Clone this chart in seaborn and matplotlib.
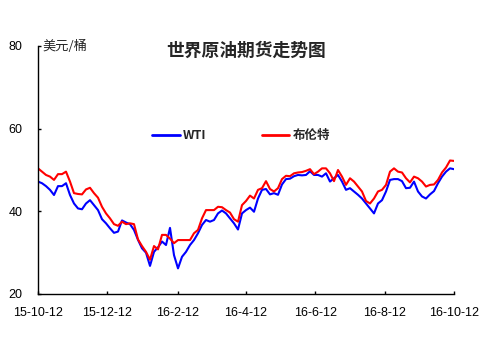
import matplotlib
matplotlib.use("Agg")
import matplotlib.pyplot as plt
import numpy as np
import pandas as pd
import seaborn as sns

# WTI and Brent futures prices (USD/barrel), sampled from 2015-10-12 to 2016-10-12
wti = [47.2, 46.8, 46.1, 45.2, 43.95, 46.1, 46.1, 46.8, 43.95, 41.9, 40.7, 40.5, 41.9, 42.7, 41.5, 40.3, 38.1, 37.1,
       35.9, 34.8, 35.1, 37.8, 37.3, 36.9, 35.5, 33.1, 31.05, 30.0, 26.8, 30.2, 31.3, 32.7, 31.85, 36.0, 29.4,
       26.2, 29.0, 30.2, 31.85, 33.05, 34.7, 36.7, 37.9, 37.5, 37.9, 39.5, 40.2, 39.5, 38.3, 37.1, 35.6, 39.5,
       40.3, 40.9, 39.9, 43.1, 45.2, 45.4, 44.1, 44.4, 44.0, 46.5, 47.8, 47.9, 48.5, 48.8, 48.7, 48.8, 49.7, 48.8,
       48.8, 48.4, 49.2, 47.2, 48.0, 48.8, 47.2, 45.2, 45.6, 44.8, 44.0, 43.1, 41.9, 40.7, 39.5, 41.9, 42.7,
       44.8, 47.6, 47.8, 47.8, 47.3, 45.6, 45.7, 47.2, 44.8, 43.6, 43.1, 44.1, 44.9, 46.8, 48.4, 49.6, 50.4, 50.2]
brent = [50.4, 49.6, 48.8, 48.4, 47.6, 49.0, 49.0, 49.6, 47.2, 44.4, 44.2, 44.1, 45.3, 45.7, 44.4, 43.3, 41.1, 39.5,
         38.3, 36.9, 36.5, 37.5, 36.9, 37.1, 36.9, 33.2, 31.6, 30.2, 28.3, 31.6, 30.8, 34.3, 34.3, 33.4, 32.3,
         33.05, 33.05, 33.05, 33.05, 34.7, 35.5, 38.3, 40.3, 40.3, 40.3, 41.1, 41.0, 40.3, 39.7, 38.1, 37.5, 41.5,
         42.5, 43.8, 43.1, 45.2, 45.6, 47.3, 45.4, 44.8, 45.6, 47.8, 48.6, 48.5, 49.2, 49.4, 49.5, 49.8, 50.2, 49.0,
         49.6, 50.4, 50.4, 49.2, 47.3, 50.0, 48.4, 46.4, 48.0, 47.2, 46.0, 44.8, 42.5, 41.9, 43.1, 44.8, 45.2,
         46.4, 49.6, 50.4, 49.6, 49.4, 48.0, 47.0, 48.4, 48.0, 47.2, 46.0, 46.4, 46.5, 47.6, 49.4, 50.6, 52.3, 52.2]
series_names = ["WTI", "布伦特"]
tick_dates = ["2015-10-12", "2015-12-12", "2016-02-12", "2016-04-12", "2016-06-12", "2016-08-12", "2016-10-12"]
tick_labels = ["15-10-12", "15-12-12", "16-2-12", "16-4-12", "16-6-12", "16-8-12", "16-10-12"]
y_ticks = [20, 40, 60, 80]

dates = pd.date_range("2015-10-12", "2016-10-12", periods=len(wti))
df = pd.concat([
    pd.DataFrame({"date": dates, "price": wti, "series": series_names[0]}),
    pd.DataFrame({"date": dates, "price": brent, "series": series_names[1]}),
])

sns.set_theme(style="white")
plt.rcParams["font.family"] = ["Liberation Sans", "Noto Sans CJK SC"]

fig = plt.figure(figsize=(4.91, 3.44), dpi=100)
ax = fig.add_axes([38 / 491, 1 - 294 / 344, 416 / 491, 248 / 344])

sns.lineplot(data=df, x="date", y="price", hue="series", hue_order=series_names,
             palette={"WTI": "#0000ff", "布伦特": "#ff0000"}, linewidth=1.5, ax=ax, legend=False)

ax.set_xlim(pd.Timestamp(tick_dates[0]), pd.Timestamp(tick_dates[-1]))
ax.set_ylim(20, 80)
ax.set_xticks([pd.Timestamp(d) for d in tick_dates])
ax.set_xticklabels(tick_labels)
ax.set_yticks(y_ticks)
ax.set_xlabel("")
ax.set_ylabel("")
for side in ["top", "right"]:
    ax.spines[side].set_visible(False)
for side in ["left", "bottom"]:
    ax.spines[side].set_color("black")
    ax.spines[side].set_linewidth(1.0)
ax.tick_params(axis="both", direction="in", length=2.5, width=1, color="black",
               labelsize=9, labelcolor="black")
ax.tick_params(axis="y", pad=11, left=True)
ax.tick_params(axis="x", pad=9, bottom=True)

fig.text(246 / 491, 1 - 51 / 344, "世界原油期货走势图", ha="center", va="center",
         fontsize=12.8, fontweight="bold", family=["Noto Sans CJK SC"])
fig.text(42 / 491, 1 - 46 / 344, "美元/桶", ha="left", va="center",
         fontsize=9.5, family=["Noto Sans CJK SC"])

handles = [plt.Line2D([], [], color="#0000ff", linewidth=2),
           plt.Line2D([], [], color="#ff0000", linewidth=2)]
fig.legend(handles, series_names, loc="center left", bbox_to_anchor=(152 / 491, 1 - 135.5 / 344),
           ncol=2, frameon=False, borderaxespad=0, borderpad=0, handlelength=2.2,
           handletextpad=0.3, columnspacing=4.4,
           prop={"family": ["Noto Sans CJK SC"], "weight": "bold", "size": 9})

fig.savefig("out.png", dpi=100)
